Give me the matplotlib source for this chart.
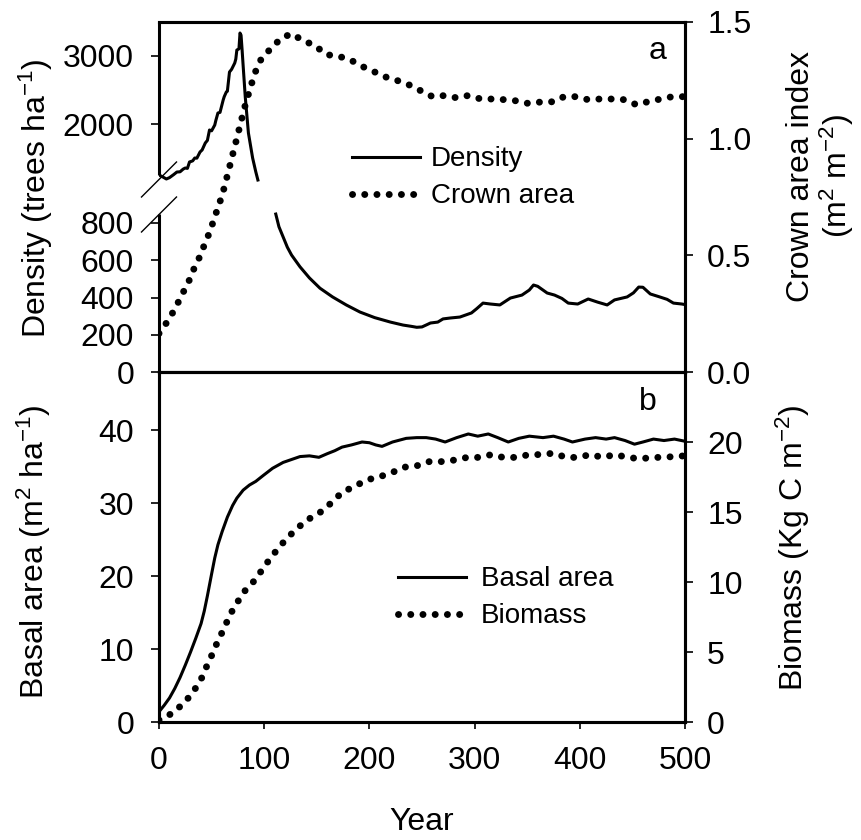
import numpy as np
import matplotlib
matplotlib.use("Agg")
import matplotlib.pyplot as plt

plt.rcParams['font.family'] = ['Liberation Sans', 'DejaVu Sans']
plt.rcParams['mathtext.fontset'] = 'custom'
plt.rcParams['mathtext.rm'] = 'Liberation Sans'
plt.rcParams['mathtext.it'] = 'Liberation Sans'
plt.rcParams['mathtext.default'] = 'regular'

# ---------------- data ----------------
density_year = [0, 3, 7, 10, 14, 17, 20, 23, 25, 27, 29, 32, 34, 36, 39, 41, 44, 46, 48, 50,
                53, 54, 56, 58, 61, 62, 64, 65, 67, 69, 72, 73, 74, 76, 77, 78, 79, 80, 82, 85,
                89, 92, 94, 97, 100, 104, 108, 111, 114, 118, 122, 126, 134, 143, 153, 165, 178,
                191, 205, 220, 232, 240, 245, 250, 255, 258, 265, 270, 277, 286, 294, 297, 302,
                308, 315, 324, 334, 345, 352, 356, 360, 365, 369, 376, 383, 389, 398, 408, 417,
                426, 433, 445, 451, 456, 460, 467, 476, 483, 489, 497, 500]
density = [1253, 1230, 1195, 1215, 1260, 1297, 1300, 1340, 1356, 1350, 1444, 1460, 1502, 1500,
           1590, 1620, 1722, 1760, 1912, 1900, 1985, 2050, 2161, 2170, 2351, 2400, 2469, 2480,
           2761, 2800, 2893, 2950, 3083, 3100, 3332, 3300, 3083, 2850, 2395, 1868, 1502, 1300,
           1180, 1050, 960, 900, 860, 848, 780, 725, 670, 628, 565, 505, 450, 403, 360, 322,
           292, 268, 252, 245, 240, 242, 255, 263, 268, 285, 290, 295, 311, 317, 340, 370, 365,
           360, 397, 413, 440, 467, 460, 440, 424, 413, 395, 370, 365, 392, 375, 360, 387, 403,
           425, 456, 455, 419, 403, 390, 370, 365, 362]

crown_year = [0, 9.5, 16, 22, 28, 33, 38, 43, 48, 52, 56, 60, 63, 66, 69, 72, 75, 78, 81, 84,
              88, 91, 97, 105, 116, 126, 137, 148, 159, 169, 181, 193, 203, 215, 226, 238, 249,
              260, 272, 283, 294, 306, 318, 329, 340, 352, 364, 375, 385, 396, 408, 419, 431,
              443, 454, 466, 477, 488, 500]
crown = [0.165, 0.226, 0.278, 0.333, 0.385, 0.44, 0.487, 0.543, 0.598, 0.65, 0.705, 0.756,
         0.808, 0.86, 0.914, 0.966, 1.02, 1.073, 1.128, 1.175, 1.235, 1.28, 1.34, 1.38, 1.43,
         1.45, 1.42, 1.40, 1.36, 1.355, 1.34, 1.31, 1.29, 1.265, 1.25, 1.23, 1.205, 1.18, 1.185,
         1.175, 1.185, 1.17, 1.17, 1.167, 1.162, 1.15, 1.158, 1.158, 1.18, 1.18, 1.167, 1.17,
         1.17, 1.167, 1.145, 1.16, 1.17, 1.18, 1.18]

basal_year = [0, 5, 10, 15, 20, 25, 30, 35, 40, 43, 46, 48, 50, 53, 56, 60, 65, 70, 74, 80, 86,
              92, 99, 108, 118, 126, 134, 143, 152, 160, 167, 174, 183, 193, 200, 206, 212, 222,
              235, 245, 254, 263, 272, 283, 294, 303, 313, 322, 332, 342, 352, 365, 375, 385,
              393, 405, 415, 425, 433, 443, 452, 460, 470, 480, 490, 500]
basal = [1.4, 2.3, 3.3, 4.6, 6.1, 7.8, 9.6, 11.5, 13.5, 15.2, 17.3, 18.8, 20.3, 22.5, 24.3,
         26.1, 28.1, 29.7, 30.7, 31.8, 32.5, 33.0, 33.8, 34.8, 35.6, 36.0, 36.4, 36.5, 36.3,
         36.8, 37.2, 37.7, 38.0, 38.4, 38.3, 38.0, 37.8, 38.4, 38.9, 39.0, 39.0, 38.8, 38.4,
         39.0, 39.5, 39.2, 39.5, 39.0, 38.4, 38.9, 39.2, 39.0, 39.2, 38.8, 38.4, 38.8, 39.0,
         38.8, 39.0, 38.6, 38.1, 38.4, 38.8, 38.6, 38.8, 38.5]

biomass_year = [0, 12, 24, 33, 41, 46, 51, 56, 62, 67, 74, 82, 92, 100, 109, 119, 128, 140, 152,
                163, 174, 185, 198, 209, 221, 233, 245, 257, 269, 280, 293, 304, 316, 327, 339,
                352, 363, 375, 387, 398, 410, 422, 433, 446, 457, 470, 481, 493, 500]
biomass = [0.14, 0.6, 1.36, 2.2, 3.2, 4.1, 4.9, 5.8, 6.7, 7.6, 8.5, 9.4, 10.2, 11.1, 12.0, 12.9,
           13.6, 14.4, 14.9, 15.6, 16.4, 16.8, 17.3, 17.5, 17.8, 18.2, 18.3, 18.6, 18.6, 18.7,
           18.9, 18.9, 19.1, 18.9, 18.9, 19.1, 19.1, 19.2, 18.9, 18.9, 19.1, 18.9, 19.1, 18.9,
           18.8, 18.9, 18.9, 19.0, 19.0]

year_ticks = [0, 100, 200, 300, 400, 500]
density_ticks = [0, 200, 400, 600, 800, 2000, 3000]
crown_ticks = [0.0, 0.5, 1.0, 1.5]
basal_ticks = [0, 10, 20, 30, 40]
biomass_ticks = [0, 5, 10, 15, 20]

# ---------------- broken density scale ----------------
BRK_LO, BRK_HI = 850, 1150
A = 0.18625
B = 0.0683
P_LO = BRK_LO * A
P_HI = 248 - (2000 - BRK_HI) * B


def fwd(v):
    v = np.asarray(v, float)
    return np.where(v <= BRK_LO, v * A,
                    np.where(v >= BRK_HI, P_HI + (v - BRK_HI) * B,
                             P_LO + (v - BRK_LO) * (P_HI - P_LO) / (BRK_HI - BRK_LO)))


def inv(p):
    p = np.asarray(p, float)
    return np.where(p <= P_LO, p / A,
                    np.where(p >= P_HI, BRK_HI + (p - P_HI) / B,
                             BRK_LO + (p - P_LO) * (BRK_HI - BRK_LO) / (P_HI - P_LO)))


FS = 23
LFS = 20
SPW = 2.2
LW = 2.2
DOT = dict(linestyle=(0, (0.01, 1.75)), linewidth=5.0, dash_capstyle='round')

fig = plt.figure(figsize=(8.61, 8.40), dpi=100)
L = 159 / 861
W = 526 / 861
ax1 = fig.add_axes([L, (840 - 372) / 840, W, 350 / 840])
ax2 = fig.add_axes([L, (840 - 722) / 840, W, 350 / 840], sharex=ax1)

# ---- top panel ----
ax1.set_yscale('function', functions=(fwd, inv))
dens = np.array(density, float)
dens_plot = np.where((dens > BRK_LO) & (dens < BRK_HI), np.nan, dens)
hd, = ax1.plot(density_year, dens_plot, color='black', lw=LW, label='Density')
ax1.set_ylim(0, inv(350.0))
ax1.set_yticks(density_ticks)
ax1.set_yticklabels([str(t) for t in density_ticks])
ax1.set_xlim(0, 500)
ax1.set_xticks(year_ticks)
ax1.tick_params(axis='x', labelbottom=False, direction='out', length=5, width=1.2)
ax1.tick_params(axis='y', direction='out', length=6, width=1.2, labelsize=FS, pad=12)
ax1.spines['left'].set_visible(False)
for s in ['top', 'bottom', 'right']:
    ax1.spines[s].set_linewidth(SPW)
yt = ax1.get_yaxis_transform()
ax1.plot([0, 0], [0, BRK_LO], transform=yt, color='black', lw=SPW, clip_on=False,
         solid_capstyle='butt')
ax1.plot([0, 0], [1254, inv(350.0)], transform=yt, color='black', lw=SPW, clip_on=False,
         solid_capstyle='butt')
dx, dy = 17.5 / 526, 17.5 / 350
for yc in [(372 - 179.5) / 350, (372 - 214.5) / 350]:
    ax1.plot([-dx, dx], [yc - dy, yc + dy], transform=ax1.transAxes, color='black', lw=1.0,
             clip_on=False)

ax1r = ax1.twinx()
hc, = ax1r.plot(crown_year, crown, color='black', label='Crown area', **DOT)
ax1r.set_ylim(0, 1.5)
ax1r.set_yticks(crown_ticks)
ax1r.set_yticklabels(['%.1f' % t for t in crown_ticks])
ax1r.tick_params(axis='y', direction='out', length=6, width=1.2, labelsize=FS, pad=10)
for s in ax1r.spines.values():
    s.set_linewidth(SPW)
ax1r.spines['left'].set_visible(False)
ax1r.legend(handles=[hd, hc], loc='upper left', bbox_to_anchor=(0.367, 0.645), frameon=False,
            fontsize=LFS, handlelength=2.45, handletextpad=0.4, borderpad=0,
            borderaxespad=0, labelspacing=0.4)

# ---- bottom panel ----
ha_, = ax2.plot(basal_year, basal, color='black', lw=LW, label='Basal area')
ax2.set_ylim(0, 48)
ax2.set_yticks(basal_ticks)
ax2.set_xlim(0, 500)
ax2.set_xticks(year_ticks)
ax2.tick_params(axis='x', direction='out', length=5, width=1.2, labelsize=FS, pad=12)
ax2.tick_params(axis='y', direction='out', length=6, width=1.2, labelsize=FS, pad=12)
for s in ax2.spines.values():
    s.set_linewidth(SPW)

ax2r = ax2.twinx()
hb, = ax2r.plot(biomass_year, biomass, color='black', label='Biomass', **DOT)
ax2r.set_ylim(0, 25)
ax2r.set_yticks(biomass_ticks)
ax2r.tick_params(axis='y', direction='out', length=6, width=1.2, labelsize=FS, pad=10)
for s in ax2r.spines.values():
    s.set_linewidth(SPW)
ax2r.legend(handles=[ha_, hb], loc='upper left', bbox_to_anchor=(0.454, 0.445), frameon=False,
            fontsize=LFS, handlelength=2.45, handletextpad=0.55, borderpad=0,
            borderaxespad=0, labelspacing=0.4)


# ---- texts (figure pixel positions) ----
def ftext(x, y, s, fs=FS, **kw):
    fig.text(x / 861, 1 - y / 840, s, fontsize=fs, ha='center', va='center', **kw)


ftext(658, 51, 'a')
ftext(648, 402, 'b')
ftext(36, 198, r'Density (trees ha$^{-1}$)', rotation=90)
ftext(821, 176, 'Crown area index\n(m$^{2}$ m$^{-2}$)', rotation=90, linespacing=1.05)
ftext(34, 552, r'Basal area (m$^{2}$ ha$^{-1}$)', rotation=90)
ftext(793, 548, r'Biomass (Kg C m$^{-2}$)', rotation=90)
ftext(422, 822, 'Year')

fig.savefig('out.png', dpi=100)
